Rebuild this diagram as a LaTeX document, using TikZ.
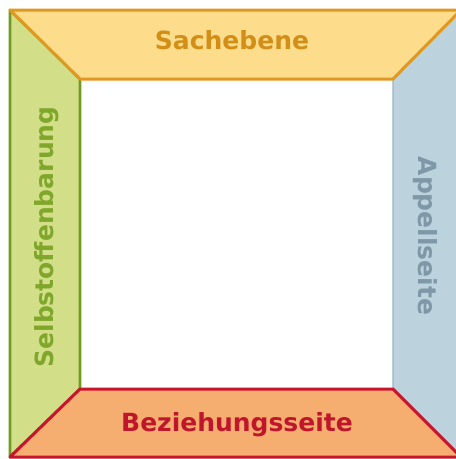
\documentclass[tikz,border=0pt]{standalone}
\usepackage{fontspec}
\setmainfont{DejaVu Sans}

\definecolor{sachfill}{HTML}{FDDD8C}
\definecolor{sachline}{HTML}{E1981E}
\definecolor{sachtext}{HTML}{D28E16}
\definecolor{selbstfill}{HTML}{D2DF88}
\definecolor{selbstline}{HTML}{6E9B20}
\definecolor{selbsttext}{HTML}{80A72C}
\definecolor{appellfill}{HTML}{BCD2DD}
\definecolor{appellline}{HTML}{9DB6C4}
\definecolor{appelltext}{HTML}{7F98A7}
\definecolor{bezfill}{HTML}{F6AD70}
\definecolor{bezline}{HTML}{C8152E}
\definecolor{beztext}{HTML}{C0162C}

\begin{document}
\begin{tikzpicture}[x=1pt, y=-1pt, line join=round,
    seite/.style={font=\fontsize{25}{29}\selectfont\bfseries, anchor=base, inner sep=0pt}]
\useasboundingbox (0,0) rectangle (456,459);

% corners of the frame
\coordinate (aol) at (10,10);
\coordinate (aor) at (461,10);
\coordinate (aur) at (461,457);
\coordinate (aul) at (10,457);
\coordinate (iol) at (80,79);
\coordinate (ior) at (393,79);
\coordinate (iur) at (393,389);
\coordinate (iul) at (80,389);

\filldraw[fill=selbstfill, draw=selbstline, line width=2.8pt] (aol) -- (iol) -- (iul) -- (aul) -- cycle;
\filldraw[fill=appellfill, draw=appellline, line width=1.4pt] (aor) -- (ior) -- (iur) -- (aur) -- cycle;
\filldraw[fill=sachfill, draw=sachline, line width=3pt] (aol) -- (aor) -- (ior) -- (iol) -- cycle;
\filldraw[fill=bezfill, draw=bezline, line width=3pt] (iul) -- (iur) -- (aur) -- (aul) -- cycle;

\node[seite, text=sachtext] (sach) at (232,49.5) {Sachebene};
\node[seite, text=beztext] (bez) at (237,431) {Beziehungsseite};
\node[seite, text=selbsttext, rotate=90] (selbst) at (53,237) {Selbstoffenbarung};
\node[seite, text=appelltext, rotate=-90] (appell) at (418,236) {Appellseite};
\end{tikzpicture}
\end{document}
